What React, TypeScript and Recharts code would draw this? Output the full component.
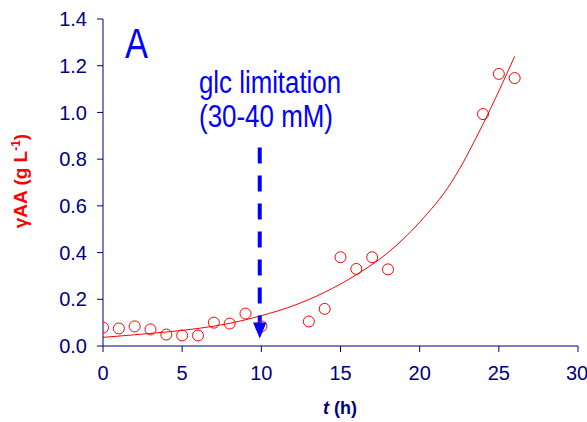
import {
  ComposedChart, Scatter, Line, XAxis, YAxis,
  ReferenceLine, ReferenceDot, Customized,
} from "recharts";

// measured points: time (h) and γAA (g/L)
const pointT = [0, 1, 2, 3, 4, 5, 6, 7, 8, 9, 10, 13, 14, 15, 16, 17, 18, 24, 25, 26];
const pointV = [0.079, 0.075, 0.084, 0.071, 0.049, 0.045, 0.045, 0.10, 0.096, 0.139, 0.084,
  0.105, 0.159, 0.38, 0.33, 0.38, 0.328, 0.993, 1.165, 1.147];

// fitted curve
const curveT = [0, 2, 4, 6, 8, 10, 12, 14, 16, 18, 20, 22, 24, 26];
const curveV = [0.037, 0.048, 0.06, 0.075, 0.097, 0.13, 0.172, 0.23, 0.305, 0.40, 0.53, 0.70, 0.95, 1.24];

const xTicks = [0, 5, 10, 15, 20, 25, 30];
const yTicks = [0, 0.2, 0.4, 0.6, 0.8, 1.0, 1.2, 1.4];

const points = pointT.map((t, i) => ({ t, v: pointV[i] }));
const curve = curveT.map((t, i) => ({ t, v: curveV[i] }));

const NAVY = "#000080";
const RED = "#ff0000";
const BLUE = "#0000ff";
const FONT = "'Liberation Sans', Arial, sans-serif";

function OpenCircle(props: any) {
  const { cx, cy } = props;
  return <circle cx={cx} cy={cy} r={5.5} fill="none" stroke={RED} strokeWidth={1} />;
}

function ArrowHead(props: any) {
  const { cx, cy } = props;
  return <path d={`M${cx - 6.7},${cy - 16} L${cx + 6.7},${cy - 16} L${cx},${cy} Z`} fill={BLUE} />;
}

function Annotations() {
  return (
    <g fontFamily={FONT}>
      <text x={125} y={58} fontSize={42} fill={BLUE} textLength={23} lengthAdjust="spacingAndGlyphs">A</text>
      <text x={199} y={93} fontSize={31} fill={BLUE} textLength={142} lengthAdjust="spacingAndGlyphs">glc limitation</text>
      <text x={199} y={127} fontSize={31} fill={BLUE} textLength={134} lengthAdjust="spacingAndGlyphs">(30-40 mM)</text>
      <text transform="translate(27,181) rotate(-90)" textAnchor="middle" fontSize={19} fontWeight="bold" fill={RED}>
        γAA (g L<tspan dy={-7} fontSize={12}>-1</tspan><tspan dy={7}>)</tspan>
      </text>
      <text x={340} y={414} textAnchor="middle" fontSize={18} fontWeight="bold" fill={NAVY}>
        <tspan fontStyle="italic">t</tspan> (h)
      </text>
    </g>
  );
}

export default function App() {
  return (
    <div style={{ position: "absolute", left: 0, top: 0, width: 587, height: 422, overflow: "hidden", background: "#fff" }}>
      <ComposedChart width={587} height={422} margin={{ top: 19, right: 9, bottom: 0, left: 0 }}>
        <XAxis
          type="number" dataKey="t" domain={[0, 30]} ticks={xTicks} height={76}
          stroke={NAVY} tickLine={{ stroke: NAVY }} tickSize={6} tickMargin={14}
          tick={{ fill: NAVY, fontSize: 20, fontFamily: FONT }}
          allowDataOverflow
        />
        <YAxis
          type="number" dataKey="v" domain={[0, 1.4]} ticks={yTicks} width={103}
          stroke={NAVY} tickLine={{ stroke: NAVY }} tickSize={6} tickMargin={10}
          tick={{ fill: NAVY, fontSize: 20, fontFamily: FONT }}
          tickFormatter={(v: number) => v.toFixed(1)}
          allowDataOverflow
        />
        <Line
          data={curve} dataKey="v" type="monotone"
          stroke={RED} strokeWidth={1} dot={false} activeDot={false}
          isAnimationActive={false}
        />
        <Scatter data={points} dataKey="v" shape={OpenCircle} isAnimationActive={false} />
        <ReferenceLine
          segment={[{ x: 9.9, y: 0.85 }, { x: 9.9, y: 0.10 }]}
          stroke={BLUE} strokeWidth={4} strokeDasharray="16 12"
        />
        <ReferenceDot x={9.9} y={0.032} shape={ArrowHead} />
        <Customized component={Annotations} />
      </ComposedChart>
    </div>
  );
}
